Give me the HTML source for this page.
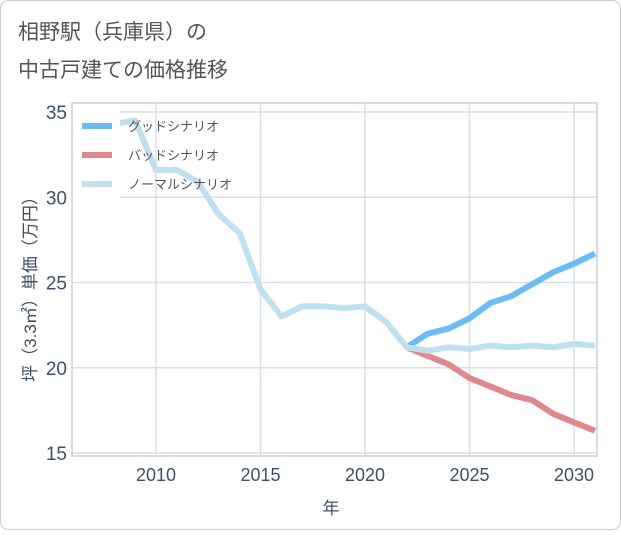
<!DOCTYPE html>
<html><head><meta charset="utf-8"><style>
body{margin:0;background:#fff;}
svg text{font-family:"Liberation Sans","Noto Sans CJK JP",sans-serif;}
</style></head><body>
<svg width="621" height="530" xmlns="http://www.w3.org/2000/svg">
<rect x="0.5" y="0.5" width="620" height="529" rx="8" fill="#fff" stroke="#ccc"/>
<text x="18" y="39" font-size="21" fill="#555">相野駅（兵庫県）の</text>
<text x="18" y="77" font-size="21" fill="#555">中古戸建ての価格推移</text>
<g id="grid"></g>
<g id="axes"></g>
<g id="series"></g>
<g id="legend"></g>
<text transform="translate(36,285) rotate(-90)" text-anchor="middle" font-size="17" fill="#3d5068">坪（3.3㎡）単価（万円）</text>
<text x="331" y="514" text-anchor="middle" font-size="17" fill="#3d5068">年</text>
</svg>
<script>
const histYears=[2008,2009,2010,2011,2012,2013,2014,2015,2016,2017,2018,2019,2020,2021,2022];
const histValues=[34.3,34.5,31.6,31.6,30.9,29.0,27.9,24.6,23.0,23.6,23.6,23.5,23.6,22.7,21.2];
const futYears=[2022,2023,2024,2025,2026,2027,2028,2029,2030,2031];
const goodValues=[21.2,22.0,22.3,22.9,23.8,24.2,24.9,25.6,26.1,26.7];
const badValues=[21.2,20.7,20.2,19.4,18.9,18.4,18.1,17.3,16.8,16.3];
const normalValues=[21.2,21.0,21.2,21.1,21.3,21.2,21.3,21.2,21.4,21.3];
const xTicks=[2010,2015,2020,2025,2030];
const yTicks=[15,20,25,30,35];
const legendLabels=["グッドシナリオ","バッドシナリオ","ノーマルシナリオ"];
const legendColors=["#6bbcf3","#e0888e","#bfe0ee"];
const NS="http://www.w3.org/2000/svg";
const L=72,R=597,T=103,B=456;
const xs=y=>156+(y-2010)*20.9;
const ys=v=>453-(v-15)*17.05;
function mk(tag,attrs,parent){const e=document.createElementNS(NS,tag);for(const k in attrs)e.setAttribute(k,attrs[k]);parent.appendChild(e);return e;}
const grid=document.getElementById('grid'),axes=document.getElementById('axes'),ser=document.getElementById('series'),leg=document.getElementById('legend');
xTicks.forEach(t=>{
 const l=mk('line',{x1:xs(t),x2:xs(t),y1:T,y2:B,stroke:'#d5dfe8','stroke-width':1.5},grid);
 
 
 const tx=mk('text',{x:xs(t),y:481,'text-anchor':'middle','font-size':18,fill:'#3d5068'},axes);
 tx.textContent=t;
 
 
});
yTicks.forEach(t=>{
 const l=mk('line',{x1:L,x2:R,y1:ys(t),y2:ys(t),stroke:'#d5dfe8','stroke-width':1.5},grid);
 
 
 const tx=mk('text',{x:67,y:ys(t)+7,'text-anchor':'end','font-size':19,fill:'#3d5068'},axes);
 tx.textContent=t;
 
 
});
const box=mk('rect',{x:L,y:T,width:R-L,height:B-T,fill:'none',stroke:'#c8d0d8','stroke-width':1.5},grid);


function line(years,vals,color,name){
 const p=mk('polyline',{points:years.map((y,i)=>xs(y)+','+ys(vals[i])).join(' '),fill:'none',stroke:color,'stroke-width':6,'stroke-linejoin':'round'},ser);
 
 
}
line(futYears,goodValues,legendColors[0],'good-scenario-line');
line(futYears,badValues,legendColors[1],'bad-scenario-line');
line(histYears.concat(futYears.slice(1)),histValues.concat(normalValues.slice(1)),legendColors[2],'normal-scenario-line');
const bg=mk('rect',{x:73,y:106,width:47,height:94,fill:'#fff'},leg);


legendLabels.forEach((s,i)=>{
 const y=126+i*29;
 const sw=mk('line',{x1:82,x2:112,y1:y,y2:y,stroke:legendColors[i],'stroke-width':6},leg);
 
 
 const tx=mk('text',{x:128,y:y+5,'font-size':13,fill:'#555'},leg);
 tx.textContent=s;
 
 
});
</script>
</body></html>
